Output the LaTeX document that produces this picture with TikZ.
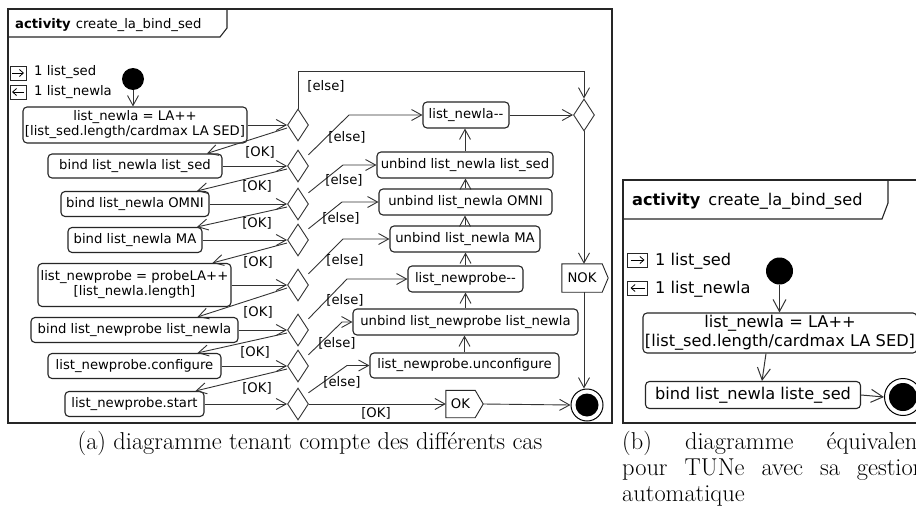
\documentclass[tikz,border=0pt]{standalone}
\usepackage{fontspec}
\newfontfamily\umlfont{DejaVu Sans}
\usetikzlibrary{arrows.meta,shapes.geometric}

\begin{document}
\begin{tikzpicture}[x=1pt,y=-1pt,
  umltext/.style={font=\umlfont\fontsize{13.2}{15}\selectfont, inner sep=0pt},
  umlbig/.style={font=\umlfont\fontsize{16.2}{18.5}\selectfont, inner sep=0pt},
  actbox/.style={draw=black!85, line width=1.1pt, rounded corners=4pt, align=center, inner sep=1pt},
  decbox/.style={diamond, draw=black!80, line width=0.9pt, minimum width=21pt, minimum height=32pt, inner sep=0pt},
  flowline/.style={draw=black!80, line width=0.9pt, -{Straight Barb[length=10pt,width=11pt]}},
  flowbig/.style={draw=black!80, line width=1pt, -{Straight Barb[length=12pt,width=13pt]}},
  framestroke/.style={draw=black!85, line width=1.1pt},
  signalstroke/.style={draw=black!85, line width=0.9pt},
  pinbox/.style={draw=black!85, line width=0.9pt, minimum width=#1, minimum height=14pt, inner sep=0pt},
  pinarrow/.style={draw=black, line width=0.8pt, -{Straight Barb[length=4pt,width=7pt]}},
  initnode/.style={circle, fill=black, inner sep=0pt, minimum size=#1},
  finalnode/.style={circle, draw=black, line width=1pt, inner sep=0pt, minimum size=#1,
    path picture={\fill[black] (path picture bounding box.center) circle ({#1/2-4.5pt});}},
  capt/.style={font=\fontsize{24.4}{26}\selectfont, inner sep=0pt, anchor=base west},
]
\useasboundingbox (0,0) rectangle (916,522);
\fill[white] (0,0) rectangle (916,522);
\begin{scope}
\clip (0,0) rectangle (916,522);

% ---------- left activity: all cases ----------
\draw[framestroke] (8,9) rectangle (612,423);
\draw[framestroke] (8,37) -- (220,37) -- (227,28) -- (227,9);
\node[umltext, anchor=base west] (titleA) at (15,28) {\textbf{activity}\hspace{5pt}create\_la\_bind\_sed};

\node[pinbox=16pt] (pinA) at (18,73) {};
\draw[pinarrow] ([xshift=-6pt]pinA.center) -- ([xshift=6pt]pinA.center);
\node[umltext, anchor=west] (pinAl) at (34,72) {1 list\_sed};
\node[pinbox=16pt] (poutA) at (18,92) {};
\draw[pinarrow] ([xshift=6pt]poutA.center) -- ([xshift=-6pt]poutA.center);
\node[umltext, anchor=west] (poutAl) at (34,92) {1 list\_newla};

\node[initnode=22pt] (initA) at (133,79) {};

% actions, left column
\node[umltext, actbox, minimum width=224pt, minimum height=36pt] (a1) at (135,125) {list\_newla = LA++\\ {[list\_sed.length/cardmax LA SED]}};
\node[umltext, actbox, minimum width=174pt, minimum height=24pt] (a2) at (135,166) {bind list\_newla list\_sed};
\node[umltext, actbox, minimum width=148pt, minimum height=25pt] (a3) at (135,204) {bind list\_newla OMNI};
\node[umltext, actbox, minimum width=134pt, minimum height=25pt] (a4) at (135,240) {bind list\_newla MA};
\node[umltext, actbox, minimum width=193pt, minimum height=43pt] (a5) at (134.5,285) {list\_newprobe = probeLA++\\ {[list\_newla.length]}};
\node[umltext, actbox, minimum width=207pt, minimum height=25pt] (a6) at (134.5,330) {bind list\_newprobe list\_newla};
\node[umltext, actbox, minimum width=173pt, minimum height=25pt] (a7) at (134.5,366) {list\_newprobe.configure};
\node[umltext, actbox, minimum width=139pt, minimum height=25pt] (a8) at (134.5,404) {list\_newprobe.start};

% decisions
\node[decbox] (d1) at (298,125) {};
\node[decbox] (d2) at (298,166) {};
\node[decbox] (d3) at (298,204) {};
\node[decbox] (d4) at (298,240) {};
\node[decbox] (d5) at (298,285) {};
\node[decbox] (d6) at (298,330) {};
\node[decbox] (d7) at (298,366) {};
\node[decbox] (d8) at (298,404) {};
\node[decbox] (d9) at (584,115) {};

% rollback actions, right column
\node[umltext, actbox, minimum width=86pt, minimum height=26pt] (b1) at (466,115) {list\_newla-{}-};
\node[umltext, actbox, minimum width=176pt, minimum height=26pt] (b2) at (465,165) {unbind list\_newla list\_sed};
\node[umltext, actbox, minimum width=173pt, minimum height=26pt] (b3) at (465.5,202) {unbind list\_newla OMNI};
\node[umltext, actbox, minimum width=150pt, minimum height=26pt] (b4) at (465,239) {unbind list\_newla MA};
\node[umltext, actbox, minimum width=115pt, minimum height=26pt] (b5) at (465.5,279) {list\_newprobe-{}-};
\node[umltext, actbox, minimum width=225pt, minimum height=26pt] (b6) at (465.5,322) {unbind list\_newprobe list\_newla};
\node[umltext, actbox, minimum width=189pt, minimum height=25pt] (b7) at (464.5,365.5) {list\_newprobe.unconfigure};

% send signals and final node
\node[umltext, minimum width=40pt, minimum height=28pt] (nok) at (582,278) {NOK};
\draw[signalstroke] (nok.north west) -- (nok.north east) -- ([xshift=6pt]nok.east) -- (nok.south east) -- (nok.south west) -- cycle;
\node[umltext, minimum width=29pt, minimum height=27pt] (okb) at (460.5,404) {OK};
\draw[signalstroke] (okb.north west) -- (okb.north east) -- ([xshift=8pt]okb.east) -- (okb.south east) -- (okb.south west) -- cycle;
\node[finalnode=32pt] (finA) at (587,405) {};

% flows
\draw[flowline] (initA) -- (initA |- a1.north);
\foreach \i in {1,...,8} {\draw[flowline] (a\i.east) -- (d\i.west);}

\draw[flowline] ([yshift=-3pt]d1.west) -- ([xshift=72pt]a2.north);
\draw[flowline] ([yshift=-3pt]d2.west) -- ([xshift=62pt]a3.north);
\draw[flowline] ([yshift=-3pt]d3.west) -- ([xshift=62pt]a4.north);
\draw[flowline] ([yshift=-3pt]d4.west) -- ([xshift=78pt]a5.north);
\draw[flowline] ([yshift=-3pt]d5.west) -- ([xshift=63pt]a6.north);
\draw[flowline] ([yshift=-3pt]d6.west) -- ([xshift=63pt]a7.north);
\draw[flowline] ([yshift=-3pt]d7.west) -- ([xshift=61pt]a8.north);
\node[umltext] at (260,152) {[OK]};
\node[umltext] at (257,186) {[OK]};
\node[umltext] at (257,223) {[OK]};
\node[umltext] at (258,262) {[OK]};
\node[umltext] at (258,312) {[OK]};
\node[umltext] at (255,352) {[OK]};
\node[umltext] at (257,388) {[OK]};

\draw[flowline] (d1.north) -- (d1.north |- 0,71) -- (d9.north |- 0,71) -- (d9.north);
\node[umltext] at (326,86) {[else]};
\draw[flowline] ([xshift=5pt,yshift=3pt]d2.north east) -- (349,0 |- b1.west) -- (b1.west);
\node[umltext] at (347,137) {[else]};
\draw[flowline] ([xshift=5pt,yshift=3pt]d3.north east) -- (343,0 |- b2.west) -- (b2.west);
\node[umltext] at (344,180) {[else]};
\draw[flowline] ([xshift=5pt,yshift=3pt]d4.north east) -- (342,0 |- b3.west) -- (b3.west);
\node[umltext] at (341,218) {[else]};
\draw[flowline] ([xshift=5pt,yshift=3pt]d5.north east) -- (343,0 |- b4.west) -- (b4.west);
\node[umltext] at (345,260) {[else]};
\draw[flowline] ([xshift=5pt,yshift=3pt]d6.north east) -- (347,0 |- b5.west) -- (b5.west);
\node[umltext] at (345,300) {[else]};
\draw[flowline] ([xshift=5pt,yshift=3pt]d7.north east) -- (342,0 |- b6.west) -- (b6.west);
\node[umltext] at (337,343) {[else]};
\draw[flowline] ([xshift=5pt,yshift=3pt]d8.north east) -- (347,0 |- b7.west) -- (b7.west);
\node[umltext] at (342,382) {[else]};

\foreach \lo/\hi in {b7/b6,b6/b5,b5/b4,b4/b3,b3/b2,b2/b1} {\draw[flowline] (\lo.north) -- (\lo.north |- \hi.south);}
\draw[flowline] (b1.east) -- (d9.west);
\draw[flowline] (d9.south) -- (d9.south |- nok.north);
\draw[flowline] (d9.south |- nok.south) -- (d9.south |- finA.north);
\draw[flowline] (d8.east) -- (okb.west);
\node[umltext] at (376,413) {[OK]};
\draw[flowline] ([xshift=8pt]okb.east) -- (finA.west);

% ---------- right activity: automatic management ----------
\draw[framestroke] (623,180) rectangle (940,423);
\draw[framestroke] (623,219) -- (882,219) -- (888,203) -- (888,180);
\node[umlbig, anchor=base west] (titleB) at (632,205) {\textbf{activity}\hspace{8pt}create\_la\_bind\_sed};

\node[pinbox=20pt] (pinB) at (637.5,260) {};
\draw[pinarrow] ([xshift=-7pt]pinB.center) -- ([xshift=7pt]pinB.center);
\node[umlbig, anchor=west] (pinBl) at (655,261) {1 list\_sed};
\node[pinbox=20pt] (poutB) at (637.5,288) {};
\draw[pinarrow] ([xshift=7pt]poutB.center) -- ([xshift=-7pt]poutB.center);
\node[umlbig, anchor=west] (poutBl) at (655,289) {1 list\_newla};

\node[initnode=27pt] (initB) at (779.5,271) {};
\node[umlbig, actbox, minimum width=274pt, minimum height=40pt] (a1B) at (780,333) {list\_newla = LA++\\ {[list\_sed.length/cardmax LA SED]}};
\node[umlbig, actbox, minimum width=215pt, minimum height=27pt] (a2B) at (753,395) {bind list\_newla liste\_sed};
\node[finalnode=37pt] (finB) at (903,397) {};

\draw[flowbig] (initB) -- (initB |- a1B.north);
\draw[flowbig] ([xshift=-14pt]a1B.south) -- ([xshift=9pt]a2B.north);
\draw[flowbig] (a2B.east) -- (finB.west);

% ---------- captions ----------
\node[capt, anchor=base] (capA) at (310,449) {(a) diagramme tenant compte des différents cas};
\node[capt] (capB1) at (622,449) {\makebox[303pt][s]{(b) diagramme équivalent}};
\node[capt] (capB2) at (622,475) {\makebox[303pt][s]{pour TUNe avec sa gestion}};
\node[capt] (capB3) at (622,501) {automatique};
\end{scope}
\end{tikzpicture}
\end{document}
